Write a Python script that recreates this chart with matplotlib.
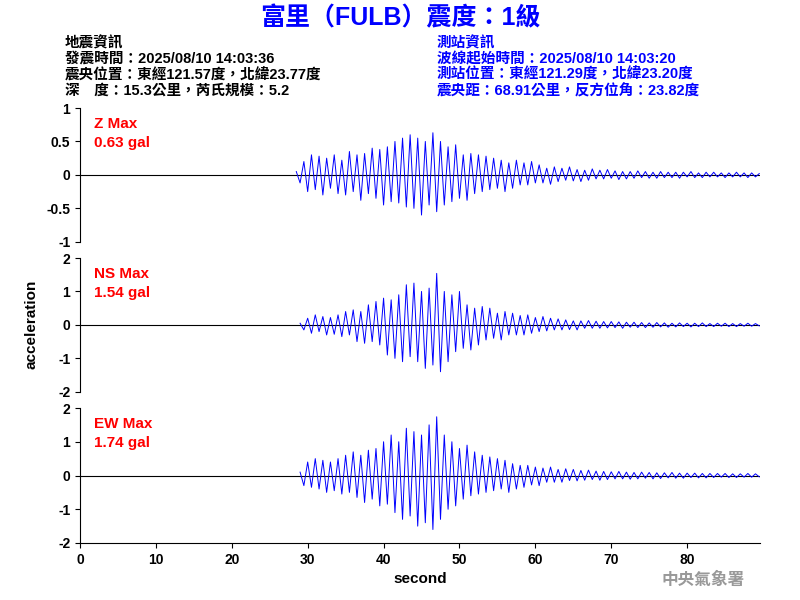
import numpy as np
import matplotlib
matplotlib.use("Agg")
import matplotlib.pyplot as plt

plt.rcParams['font.family'] = ['Liberation Sans', 'Noto Sans CJK TC', 'DejaVu Sans']

step = 0.5
z_start = 28.5
z_vals = [0.05,-0.12,0.2,-0.25,0.3,-0.22,0.28,-0.3,0.25,-0.2,
0.3,-0.28,0.22,-0.3,0.35,-0.25,0.3,-0.38,0.32,-0.28,
0.4,-0.35,0.38,-0.45,0.42,-0.4,0.5,-0.42,0.55,-0.48,
0.6,-0.5,0.55,-0.6,0.5,-0.45,0.63,-0.55,0.5,-0.45,
0.42,-0.4,0.45,-0.35,0.3,-0.38,0.32,-0.28,0.3,-0.25,
0.28,-0.22,0.25,-0.2,0.22,-0.25,0.18,-0.2,0.22,-0.15,
0.18,-0.15,0.2,-0.12,0.15,-0.12,0.1,-0.14,0.12,-0.1,
0.1,-0.08,0.12,-0.09,0.08,-0.1,0.07,-0.08,0.09,-0.06,
0.07,-0.06,0.08,-0.05,0.06,-0.07,0.05,-0.06,0.05,-0.05,
0.06,-0.04,0.05,-0.05,0.04,-0.05,0.05,-0.04,0.04,-0.04,
0.04,-0.05,0.04,-0.03,0.05,-0.04,0.03,-0.04,0.04,-0.03,
0.04,-0.03,0.03,-0.04,0.03,-0.03,0.04,-0.03,0.03,-0.04,
0.03,-0.03,0.02]
ns_start = 29.0
ns_vals = [0.05,-0.15,0.2,-0.25,0.3,-0.2,0.25,-0.3,0.22,-0.28,
0.3,-0.35,0.4,-0.3,0.45,-0.5,0.4,-0.55,0.6,-0.5,
0.7,-0.6,0.8,-0.9,0.75,-1.0,0.9,-1.1,1.2,-0.95,
1.25,-1.1,1.0,-1.3,1.1,-1.2,1.54,-1.4,1.0,-1.1,
0.9,-0.8,1.0,-0.7,0.6,-0.75,0.5,-0.6,0.55,-0.45,
0.5,-0.4,0.35,-0.45,0.4,-0.3,0.35,-0.3,0.28,-0.3,
0.3,-0.25,0.22,-0.2,0.25,-0.18,0.2,-0.15,0.18,-0.15,
0.15,-0.14,0.12,-0.15,0.12,-0.1,0.13,-0.1,0.11,-0.1,
0.1,-0.09,0.1,-0.08,0.09,-0.1,0.08,-0.07,0.08,-0.08,
0.07,-0.08,0.06,-0.07,0.07,-0.06,0.06,-0.07,0.05,-0.06,
0.06,-0.05,0.05,-0.06,0.05,-0.05,0.06,-0.05,0.04,-0.05,
0.05,-0.04,0.05,-0.05,0.04,-0.05,0.04,-0.04,0.05,-0.04,
0.04,-0.03]
ew_start = 29.0
ew_vals = [0.1,-0.3,0.4,-0.35,0.5,-0.4,0.45,-0.5,0.4,-0.45,
0.5,-0.55,0.6,-0.5,0.7,-0.65,0.6,-0.8,0.75,-0.7,
0.8,-0.9,1.0,-0.85,1.2,-1.1,1.0,-1.3,1.4,-1.2,
1.3,-1.5,1.2,-1.4,1.5,-1.6,1.74,-1.3,1.2,-1.0,
1.0,-0.9,0.8,-0.7,0.9,-0.6,0.7,-0.55,0.6,-0.5,
0.55,-0.45,0.5,-0.4,0.45,-0.5,0.35,-0.4,0.3,-0.35,
0.3,-0.28,0.25,-0.3,0.22,-0.2,0.25,-0.2,0.18,-0.2,
0.2,-0.15,0.18,-0.16,0.15,-0.14,0.16,-0.12,0.13,-0.14,
0.12,-0.12,0.11,-0.1,0.12,-0.1,0.1,-0.11,0.09,-0.1,
0.1,-0.08,0.09,-0.1,0.08,-0.09,0.08,-0.07,0.09,-0.08,
0.07,-0.08,0.07,-0.06,0.07,-0.07,0.06,-0.07,0.06,-0.06,
0.06,-0.05,0.06,-0.06,0.05,-0.06,0.05,-0.05,0.06,-0.05,
0.05,-0.04]

labels = ["Z Max", "NS Max", "EW Max"]
maxes = ["0.63 gal", "1.54 gal", "1.74 gal"]
ylims = [1, 2, 2]
yticks = [[-1, -0.5, 0, 0.5, 1], [-2, -1, 0, 1, 2], [-2, -1, 0, 1, 2]]
xticks = [0, 10, 20, 30, 40, 50, 60, 70, 80]

fig = plt.figure(figsize=(8, 6), dpi=100)
boxes = [(0.82, 0.597), (0.57, 0.347), (0.32, 0.095)]
series = [(z_start, z_vals), (ns_start, ns_vals), (ew_start, ew_vals)]
for i, ((top, bot), (st, vals)) in enumerate(zip(boxes, series)):
    ax = fig.add_axes([0.1, bot, 0.85, top - bot])
    t = st + step * np.arange(len(vals))
    ax.axhline(0, color='black', lw=0.8)
    ax.plot(t, vals, color='blue', lw=0.7)
    ax.set_xlim(0, 89.6)
    ax.set_ylim(-ylims[i], ylims[i])
    ax.set_yticks(yticks[i])
    ax.set_yticklabels([f"{v:g}" for v in yticks[i]], fontsize=10, fontweight='bold')
    for s in ['top', 'right']:
        ax.spines[s].set_visible(False)
    if i < 2:
        ax.spines['bottom'].set_visible(False)
        ax.set_xticks([])
    else:
        ax.set_xticks(xticks)
        ax.set_xticklabels([str(v) for v in xticks], fontsize=10, fontweight='bold')
        ax.set_xlabel("second", fontsize=11, fontweight='bold')
    ax.text(0.02, 0.93, labels[i], transform=ax.transAxes, color='red', fontsize=11,
            fontweight='bold', va='top')
    ax.text(0.02, 0.79, maxes[i], transform=ax.transAxes, color='red', fontsize=11,
            fontweight='bold', va='top')

fig.text(0.04, 0.46, "acceleration", rotation=90, ha='center', va='center',
         fontsize=11, fontweight='bold')
fig.text(0.5, 0.97, "富里（FULB）震度：1級", color='blue', fontsize=18,
         fontweight='bold', ha='center', va='center')
left = ["地震資訊", "發震時間：2025/08/10 14:03:36", "震央位置：東經121.57度，北緯23.77度",
        "深　度：15.3公里，芮氏規模：5.2"]
right = ["測站資訊", "波線起始時間：2025/08/10 14:03:20", "測站位置：東經121.29度，北緯23.20度",
         "震央距：68.91公里，反方位角：23.82度"]
ys = [43, 59, 75, 91]
for y, l, r in zip(ys, left, right):
    fig.text(65/800, 1 - y/600, l, fontsize=10.5, fontweight='bold', va='center', color='black')
    fig.text(437/800, 1 - y/600, r, fontsize=10.5, fontweight='bold', va='center', color='blue')
fig.text(745/800, 1 - 580/600, "中央氣象署", fontsize=12, fontweight='bold', color='#999999',
         ha='right', va='center')
fig.savefig("out.png", dpi=100)
